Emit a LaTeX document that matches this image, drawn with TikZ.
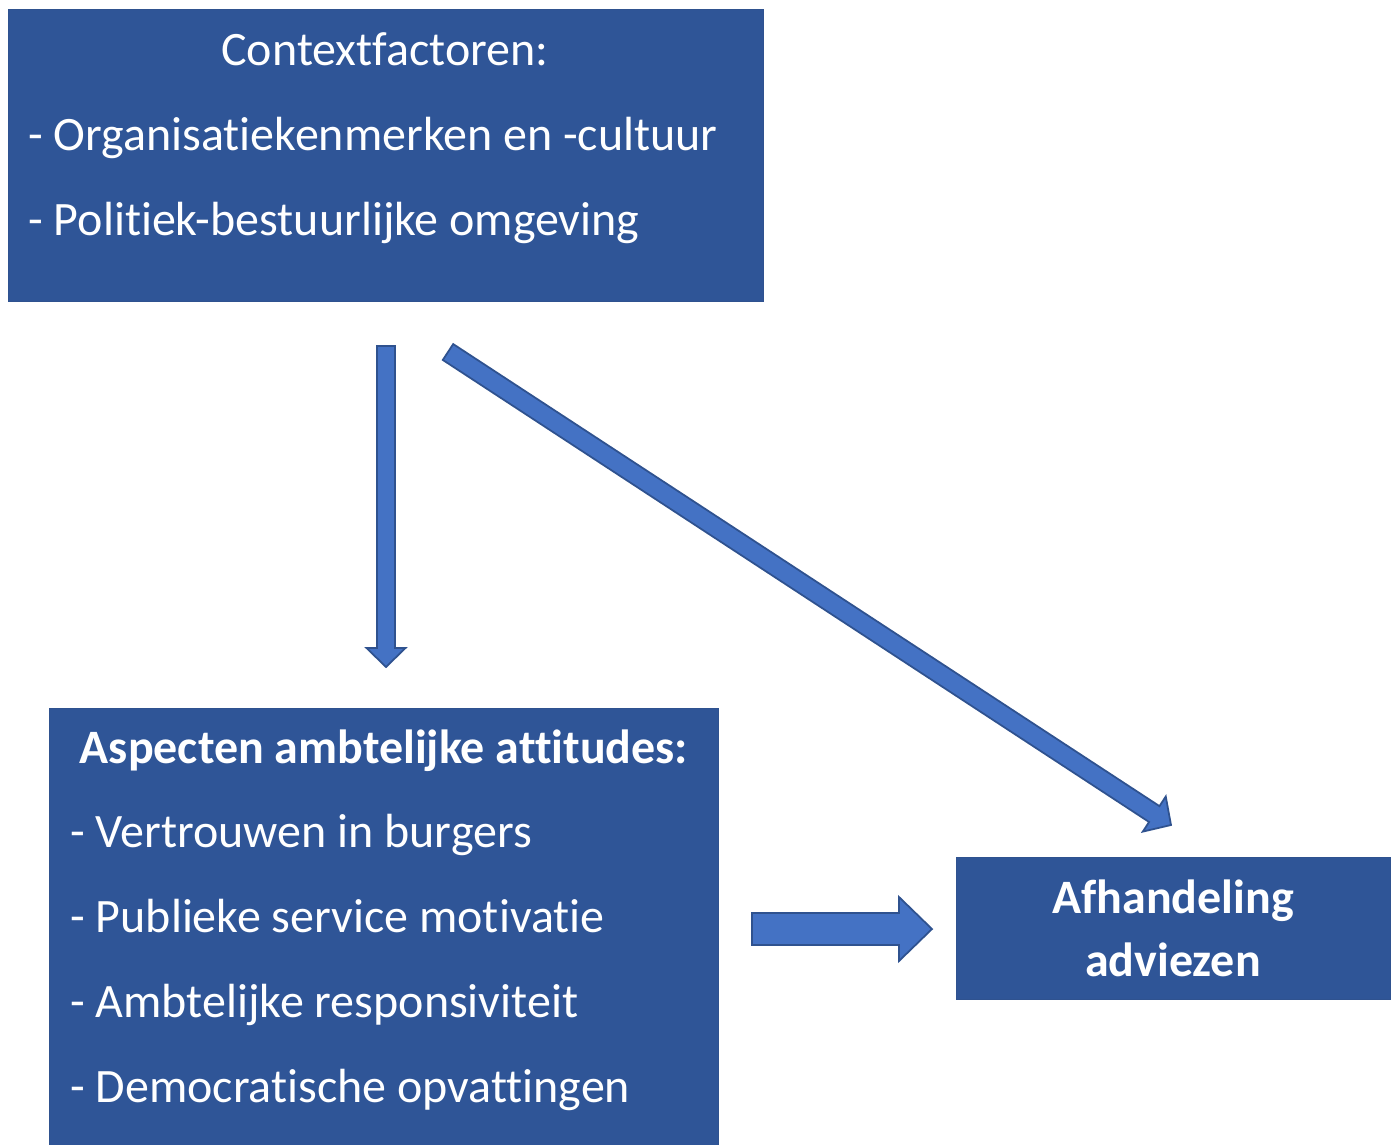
\documentclass[tikz,border=0pt]{standalone}
\usepackage{fontspec}
\setmainfont[RawFeature={-liga;-clig;-dlig;-calt}]{Carlito}
\usepackage{tikz}
\usetikzlibrary{positioning,calc}

\definecolor{boxblue}{HTML}{2F5597}
\definecolor{arrowblue}{HTML}{4472C4}
\definecolor{edgeblue}{HTML}{2F528F}

\tikzset{
  box/.style={draw=edgeblue, fill=boxblue, line width=0.6pt, anchor=north west, inner sep=0pt},
  boxtext/.style={text=white, inner sep=0pt, font=\fontsize{27.3}{32}\selectfont},
  boxhead/.style={boxtext, font=\fontsize{27.3}{32}\selectfont\bfseries},
  arrowbody/.style={draw=edgeblue, fill=arrowblue, line width=1pt, line join=miter}
}

% block arrow: start, tip, half shaft, head length, half head
\newcommand{\blockarrow}[5]{%
  \coordinate (ba-b) at ($(#2)!#4!(#1)$);
  \draw[arrowbody] ($(#1)!#3!90:(#2)$) -- ($(ba-b)!#3!90:(#2)$)
    -- ($(ba-b)!#5!90:(#2)$) -- (#2) -- ($(ba-b)!#5!-90:(#2)$)
    -- ($(ba-b)!#3!-90:(#2)$) -- ($(#1)!#3!-90:(#2)$) -- cycle;
}

\begin{document}
\begin{tikzpicture}[x=0.02cm, y=-0.02cm]
  \useasboundingbox (0,0) rectangle (1394,1144);

  % boxes
  \node[box, minimum width=15.1cm, minimum height=5.84cm] (ctx) at (8,9) {};
  \node[box, minimum width=13.38cm, minimum height=9.2cm] (att) at (49,708) {};
  \node[box, minimum width=8.68cm, minimum height=2.84cm] (afh) at (956,857) {};

  % context factors
  \node[boxtext, anchor=base] (ctxhead) at (385,65) {Contextfactoren:};
  \node[boxtext, anchor=base west] (ctxorg) at (28,150) {- Organisatiekenmerken en -cultuur};
  \node[boxtext, anchor=base west] (ctxpol) at (28,235) {- Politiek-bestuurlijke omgeving};

  % attitudes
  \node[boxhead, anchor=base] (atthead) at (384,763) {Aspecten ambtelijke attitudes:};
  \node[boxtext, anchor=base west] (attvert) at (70,847) {- Vertrouwen in burgers};
  \node[boxtext, anchor=base west] (attpsm) at (70,932) {- Publieke service motivatie};
  \node[boxtext, anchor=base west] (attresp) at (70,1017) {- Ambtelijke responsiviteit};
  \node[boxtext, anchor=base west] (attdem) at (70,1102) {- Democratische opvattingen};

  % outcome
  \node[boxhead, anchor=base] (afha) at (1173,913) {Afhandeling};
  \node[boxhead, anchor=base] (afhb) at (1173,976) {adviezen};

  % arrow ends
  \coordinate (vs) at (386,346);
  \coordinate (vt) at (386,667);
  \coordinate (ds) at (448,352);
  \coordinate (dt) at (1171,825);
  \coordinate (hs) at (752,929);
  \coordinate (ht) at (932,929);

  % arrows
  \blockarrow{vs}{vt}{0.18cm}{0.38cm}{0.39cm}
  \blockarrow{ds}{dt}{0.19cm}{0.4cm}{0.42cm}
  \blockarrow{hs}{ht}{0.32cm}{0.66cm}{0.64cm}

\end{tikzpicture}
\end{document}
